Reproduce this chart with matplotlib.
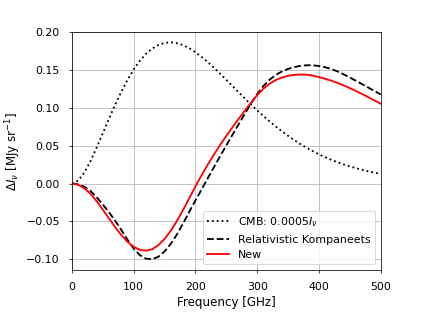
import numpy as np
from matplotlib import pyplot as plt

plt.rcParams['font.size'] = 12

freq_ghz = np.arange(0, 501, 10)

# 0.0005 * CMB intensity [MJy/sr]
cmb = [0.0, 0.0039, 0.0142, 0.0295, 0.0475, 0.0665, 0.0858, 0.1043, 0.1215, 0.1372,
       0.1510, 0.1625, 0.1717, 0.1787, 0.1836, 0.1862, 0.1871, 0.1859, 0.1832, 0.1791,
       0.1739, 0.1677, 0.1608, 0.1533, 0.1454, 0.1373, 0.1291, 0.1208, 0.1126, 0.1046,
       0.0969, 0.0895, 0.0823, 0.0755, 0.0692, 0.0632, 0.0575, 0.0522, 0.0474, 0.0429,
       0.0387, 0.0349, 0.0314, 0.0282, 0.0253, 0.0227, 0.0203, 0.0181, 0.0161, 0.0144,
       0.0128]

rel_komp = [0.0, -0.0010, -0.0042, -0.0098, -0.0180, -0.0278, -0.0380, -0.0493, -0.0615, -0.0745,
            -0.0862, -0.0948, -0.0995, -0.1003, -0.0970, -0.0900, -0.0800, -0.0675, -0.0530, -0.0375,
            -0.0225, -0.0078, 0.0070, 0.0217, 0.0362, 0.0505, 0.0645, 0.0785, 0.0925, 0.1060,
            0.1185, 0.1290, 0.1375, 0.1437, 0.1484, 0.1518, 0.1542, 0.1558, 0.1566, 0.1566,
            0.1556, 0.1540, 0.1516, 0.1484, 0.1446, 0.1404, 0.1360, 0.1315, 0.1270, 0.1225,
            0.1180]

new = [0.0, -0.0016, -0.0062, -0.0135, -0.0232, -0.0345, -0.0462, -0.0578, -0.0683, -0.0772,
       -0.0838, -0.0878, -0.0890, -0.0870, -0.0817, -0.0735, -0.0627, -0.0496, -0.0350, -0.0195,
       -0.0040, 0.0110, 0.0250, 0.0384, 0.0510, 0.0630, 0.0745, 0.0856, 0.0964, 0.1070,
       0.1170, 0.1255, 0.1322, 0.1370, 0.1404, 0.1426, 0.1439, 0.1444, 0.1441, 0.1430,
       0.1410, 0.1387, 0.1362, 0.1333, 0.1300, 0.1264, 0.1225, 0.1185, 0.1143, 0.1100,
       0.1057]

fig = plt.figure(figsize=(423/66., 318/66.), dpi=66)
fig.subplots_adjust(left=0.170, right=0.900, bottom=0.151, top=0.899)

plt.plot(freq_ghz, cmb, 'k:', lw=2, label=r'CMB: $0.0005I_\nu$')
plt.plot(freq_ghz, rel_komp, 'k--', lw=2, label='Relativistic Kompaneets')
plt.plot(freq_ghz, new, 'r-', lw=2, label='New')

plt.xlim(0, 500)
plt.ylim(-0.1145, 0.2005)
plt.xticks([0, 100, 200, 300, 400, 500])
plt.tick_params(pad=9.5)
plt.grid(True)
plt.legend(loc='lower right')

plt.xlabel('Frequency [GHz]', fontsize=13)
plt.ylabel(r'$\Delta I_\nu$ [MJy sr$^{-1}$]', fontsize=13)

plt.savefig('out.png', dpi=66)
